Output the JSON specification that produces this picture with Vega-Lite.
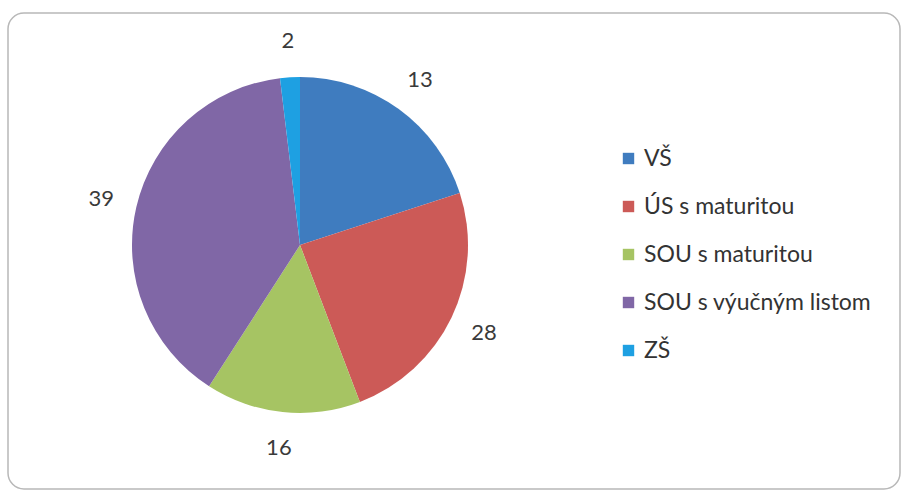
{
  "$schema": "https://vega.github.io/schema/vega-lite/v6.json",
  "width": 904,
  "height": 492,
  "autosize": {"type": "fit", "contains": "padding"},
  "padding": {"left": 8, "top": 13, "right": 4, "bottom": 3},
  "background": "white",
  "view": {"stroke": "#b8b8b8", "strokeWidth": 1.5, "cornerRadius": 16, "fill": "white"},
  "config": {
    "font": "Lato"
  },
  "data": {
    "values": [
      {"kategoria": "VŠ", "podiel": 20.0, "label": "13", "poradie": 1},
      {"kategoria": "ÚS s maturitou", "podiel": 24.2, "label": "28", "poradie": 2},
      {"kategoria": "SOU s maturitou", "podiel": 14.9, "label": "16", "poradie": 3},
      {"kategoria": "SOU s výučným listom", "podiel": 39.0, "label": "39", "poradie": 4},
      {"kategoria": "ZŠ", "podiel": 1.9, "label": "2", "poradie": 5}
    ]
  },
  "encoding": {
    "theta": {"field": "podiel", "type": "quantitative", "stack": true},
    "order": {"field": "poradie", "type": "quantitative"},
    "color": {
      "field": "kategoria",
      "type": "nominal",
      "sort": ["VŠ", "ÚS s maturitou", "SOU s maturitou", "SOU s výučným listom", "ZŠ"],
      "scale": {
        "domain": ["VŠ", "ÚS s maturitou", "SOU s maturitou", "SOU s výučným listom", "ZŠ"],
        "range": ["#3f7cbf", "#cc5a57", "#a6c463", "#8067a6", "#1ea0e2"]
      },
      "legend": {
        "title": null,
        "orient": "none",
        "legendX": 609,
        "legendY": 134,
        "symbolType": "square",
        "symbolSize": 130,
        "symbolStrokeWidth": 0,
        "labelFontSize": 23,
        "labelColor": "#333333",
        "labelFont": "Lato",
        "labelLimit": 400,
        "rowPadding": 24,
        "labelOffset": 4
      }
    }
  },
  "layer": [
    {"mark": {"type": "arc", "radius": 168, "x": 292, "y": 232}},
    {
      "mark": {"type": "text", "radius": 204, "x": 292, "y": 232, "fontSize": 22, "fill": "#3a3a3a", "font": "Lato"},
      "encoding": {"text": {"field": "label"}, "color": {"value": "#3a3a3a"}}
    }
  ]
}
